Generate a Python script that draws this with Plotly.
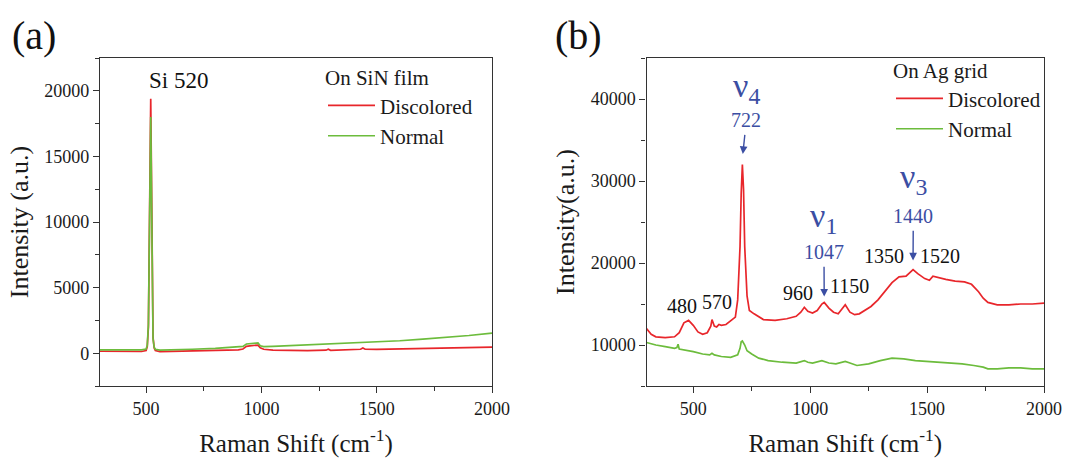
import plotly.graph_objects as go

# ---------------- data ----------------
# Panel (a): On SiN film
a_red_x = [300, 350, 400, 450, 480, 500, 505, 510, 514, 517, 520, 523, 526, 530, 535, 540, 560, 600, 700, 800,
           900, 920, 935, 950, 970, 985, 995, 1010, 1050, 1100, 1200, 1280, 1290, 1300, 1400, 1430, 1440, 1450,
           1500, 1600, 1700, 1800, 1900, 2000]
a_red_y = [150, 140, 130, 120, 130, 200, 500, 2000, 9000, 16000, 19400, 14000, 5000, 1200, 400, 200, 120, 130, 150, 190,
           260, 320, 520, 560, 600, 620, 420, 300, 230, 210, 200, 230, 300, 220, 260, 300, 400, 300,
           290, 320, 350, 380, 420, 470]
a_grn_x = [300, 350, 400, 450, 480, 500, 505, 510, 514, 517, 520, 523, 526, 530, 535, 540, 560, 600, 700, 800,
           900, 920, 935, 950, 970, 985, 995, 1010, 1050, 1100, 1200, 1300, 1400, 1500, 1600, 1700, 1800, 1900, 2000]
a_grn_y = [250, 240, 230, 230, 250, 320, 600, 2200, 9000, 15500, 18000, 13000, 4500, 1100, 450, 300, 230, 240, 300, 370,
           450, 520, 700, 730, 760, 780, 560, 500, 520, 560, 620, 700, 780, 850, 950, 1070, 1200, 1350, 1530]

# Panel (b): On Ag grid
b_red_x = [300, 320, 340, 380, 420, 440, 460, 480, 500, 520, 540, 560, 575, 580, 590, 600, 610, 620, 640, 660,
           680, 690, 700, 705, 710, 715, 720, 730, 740, 760, 780, 800, 850, 900, 940, 960, 975, 990, 1010, 1030,
           1050, 1060, 1080, 1100, 1120, 1140, 1150, 1170, 1190, 1210, 1230, 1260, 1290, 1320, 1350, 1380, 1410,
           1440, 1460, 1490, 1510, 1525, 1550, 1580, 1620, 1660, 1690, 1720, 1740, 1760, 1800, 1850, 1900, 1950, 2000]
b_red_y = [12000, 11300, 11000, 10900, 11000, 11500, 12700, 13000, 12400, 11600, 11300, 11500, 12300, 13100, 12300,
           12200, 12500, 12400, 12500, 13000, 13400, 15500, 22000, 28500, 32000, 29000, 22000, 16000, 14200, 13800,
           13500, 13100, 13000, 13200, 13500, 14000, 14600, 14100, 13900, 14200, 15000, 15200, 14500, 14000, 13800,
           14500, 14900, 14000, 13700, 13800, 14200, 14700, 15500, 16500, 17600, 18300, 18400, 19200, 18700, 18100,
           17900, 18400, 18200, 18000, 17800, 17700, 17400, 16500, 15700, 15200, 14900, 14900, 15000, 15000, 15100]
b_grn_x = [300, 340, 380, 420, 430, 435, 440, 460, 500, 540, 570, 580, 590, 620, 660, 690, 700, 705, 710, 720,
           730, 750, 780, 820, 880, 940, 975, 990, 1010, 1050, 1080, 1110, 1150, 1170, 1200, 1250, 1300, 1350, 1400,
           1450, 1500, 1550, 1600, 1650, 1700, 1740, 1760, 1800, 1850, 1900, 1950, 2000]
b_grn_y = [10300, 10000, 9800, 9600, 9700, 10100, 9500, 9400, 9200, 8900, 8800, 9000, 8800, 8600, 8500, 8800, 9600,
           10400, 10500, 10000, 9300, 8900, 8400, 8100, 7900, 7800, 8100, 7900, 7800, 8100, 7800, 7700, 8000, 7800,
           7500, 7700, 8100, 8400, 8300, 8100, 8000, 7900, 7800, 7700, 7500, 7300, 7100, 7100, 7200, 7200, 7100, 7100]

series_names = ["Discolored", "Normal"]
a_ticks = [0, 5000, 10000, 15000, 20000]
a_ticktext = ["0", "5000", "10000", "15000", "20000"]
b_ticks = [10000, 20000, 30000, 40000]
b_ticktext = ["10000", "20000", "30000", "40000"]
x_ticks = [500, 1000, 1500, 2000]
x_ticktext = ["500", "1000", "1500", "2000"]

# peak labels for (b)
b_black_labels = [("480", 450, 14800), ("570", 602, 15200), ("960", 950, 16400),
                  ("1150", 1167, 17250), ("1350", 1316, 20900), ("1520", 1557, 20900)]
# (nu text, number text, label x, nu y, number y, arrow x, arrow tip y)
b_modes = [("ν<sub>4</sub>", "722", 727, 41400, 37400, 712, 33300),
           ("ν<sub>1</sub>", "1047", 1059, 25500, 21300, 1060, 15900),
           ("ν<sub>3</sub>", "1440", 1441, 30200, 25700, 1440, 20300)]

RED = "#e8262b"
GREEN = "#6cbc3c"
BLUE = "#3b4ea3"
AXC = "#333333"
FONT = "Liberation Serif, Times New Roman, serif"
TXT = "#1a1a1a"

W, H = 1072, 459


def px(p):
    return p / W


def py(p):
    return 1 - p / H


fig = go.Figure()
fig.add_trace(go.Scatter(x=a_red_x, y=a_red_y, mode="lines", name=series_names[0],
                         line=dict(color=RED, width=1.7), xaxis="x", yaxis="y", legend="legend"))
fig.add_trace(go.Scatter(x=a_grn_x, y=a_grn_y, mode="lines", name=series_names[1],
                         line=dict(color=GREEN, width=1.7), xaxis="x", yaxis="y", legend="legend"))
fig.add_trace(go.Scatter(x=b_red_x, y=b_red_y, mode="lines", name=series_names[0],
                         line=dict(color=RED, width=1.7), xaxis="x2", yaxis="y2", legend="legend2"))
fig.add_trace(go.Scatter(x=b_grn_x, y=b_grn_y, mode="lines", name=series_names[1],
                         line=dict(color=GREEN, width=1.7), xaxis="x2", yaxis="y2", legend="legend2"))


def xax(domain, anchor):
    return dict(domain=domain, anchor=anchor, range=[300, 2000], tickvals=x_ticks, ticktext=x_ticktext,
                showline=True, mirror=True, linecolor=AXC, linewidth=1.3,
                ticks="outside", ticklen=6, tickcolor=AXC, tickwidth=1.2,
                minor=dict(dtick=250, tick0=0, ticks="outside", ticklen=4, tickcolor=AXC),
                showgrid=False, zeroline=False, automargin=False,
                tickfont=dict(family=FONT, size=18, color=TXT),
                title=dict(text="Raman Shift (cm<sup>-1</sup>)", font=dict(family=FONT, size=25, color=TXT),
                           standoff=16))


def yax(domain, anchor, rng, ticks, ticktext, dminor, title):
    return dict(domain=domain, anchor=anchor, range=rng, tickvals=ticks, ticktext=ticktext,
                showline=True, mirror=True, linecolor=AXC, linewidth=1.3,
                ticks="outside", ticklen=6, tickcolor=AXC, tickwidth=1.2,
                minor=dict(dtick=dminor, tick0=0, ticks="outside", ticklen=4, tickcolor=AXC),
                showgrid=False, zeroline=False, automargin=False,
                tickfont=dict(family=FONT, size=18, color=TXT),
                title=dict(text=title, font=dict(family=FONT, size=26, color=TXT), standoff=8))


ydom = [py(386), py(58)]
annotations = [
    dict(text="(a)", x=px(10), y=py(11), xref="paper", yref="paper", xanchor="left", yanchor="top",
         showarrow=False, font=dict(family=FONT, size=40, color="#111")),
    dict(text="(b)", x=px(553), y=py(11), xref="paper", yref="paper", xanchor="left", yanchor="top",
         showarrow=False, font=dict(family=FONT, size=40, color="#111")),
    dict(text="Si 520", x=640, y=20800, xref="x", yref="y", showarrow=False,
         font=dict(family=FONT, size=23, color="#111")),
]
for t, x, y in b_black_labels:
    annotations.append(dict(text=t, x=x, y=y, xref="x2", yref="y2", showarrow=False,
                            font=dict(family=FONT, size=20, color="#111")))
for nu, num, xt, ynu, ynum, xa, ytip in b_modes:
    annotations.append(dict(text=nu, x=xt, y=ynu, xref="x2", yref="y2", showarrow=False,
                            font=dict(family=FONT, size=34, color=BLUE)))
    annotations.append(dict(text=num, x=xa, y=ytip, ax=xt, ay=ynum, xref="x2", yref="y2",
                            axref="x2", ayref="y2", showarrow=True, arrowhead=2, arrowsize=1.1,
                            arrowwidth=1.4, arrowcolor=BLUE, standoff=0, startstandoff=2,
                            font=dict(family=FONT, size=20, color=BLUE)))

leg_common = dict(bgcolor="rgba(0,0,0,0)", font=dict(family=FONT, size=21, color=TXT),
                  xanchor="left", yanchor="top", tracegroupgap=0, itemwidth=47)

fig.update_layout(
    width=W, height=H, margin=dict(l=0, r=0, t=0, b=0, autoexpand=False),
    paper_bgcolor="white", plot_bgcolor="white",
    font=dict(family=FONT),
    xaxis=xax([px(100), px(492)], "y"),
    yaxis=yax(ydom, "x", [-2500, 22500], a_ticks, a_ticktext, 2500, "Intensity (a.u.)"),
    xaxis2=xax([px(646.5), px(1044)], "y2"),
    yaxis2=yax(ydom, "x2", [5000, 45000], b_ticks, b_ticktext, 5000, "Intensity(a.u.)"),
    legend=dict(x=px(323), y=py(58),
                title=dict(text="On SiN film", font=dict(family=FONT, size=21, color=TXT)), **leg_common),
    legend2=dict(x=px(891), y=py(51),
                 title=dict(text="On Ag grid", font=dict(family=FONT, size=21, color=TXT)), **leg_common),
    annotations=annotations,
    showlegend=True,
)

fig.write_html("out.html", config={"displayModeBar": False},
               post_script="document.body.style.margin='0';")
